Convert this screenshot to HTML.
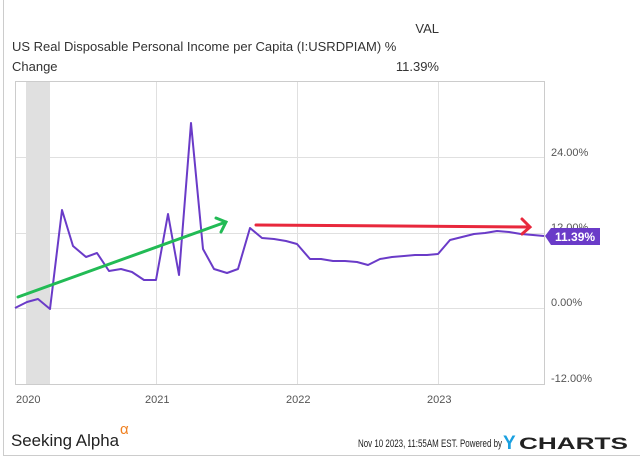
<!DOCTYPE html><html><head><style>body{margin:0;background:#fff}svg{display:block;font-family:"Liberation Sans",sans-serif}</style></head><body>
<svg width="640" height="457" viewBox="0 0 640 457">
<rect x="0" y="0" width="640" height="457" fill="#fff"/>
<line x1="3.5" y1="0" x2="3.5" y2="455" stroke="#ccc"/>
<line x1="3" y1="455.5" x2="640" y2="455.5" stroke="#ccc"/>
<text x="12" y="51" font-size="13" fill="#333">US Real Disposable Personal Income per Capita (I:USRDPIAM) %</text>
<text x="12" y="71" font-size="13" fill="#333">Change</text>
<text x="439" y="33" font-size="13" fill="#333" text-anchor="end">VAL</text>
<text x="439" y="71" font-size="13" fill="#333" text-anchor="end">11.39%</text>
<rect x="26" y="81" width="24" height="304" fill="#e0e0e0"/>
<g stroke="#e0e0e0" stroke-width="1">
<line x1="15" y1="157.5" x2="545" y2="157.5"/><line x1="15" y1="233.5" x2="545" y2="233.5"/><line x1="15" y1="308.5" x2="545" y2="308.5"/>
<line x1="156.5" y1="81" x2="156.5" y2="385"/><line x1="297.5" y1="81" x2="297.5" y2="385"/><line x1="438.5" y1="81" x2="438.5" y2="385"/>
</g>
<rect x="15.5" y="81.5" width="529" height="303" fill="none" stroke="#ccc"/>
<g font-size="11" fill="#555">
<text x="551" y="156">24.00%</text><text x="551" y="231">12.00%</text><text x="551" y="306">0.00%</text><text x="551" y="382">-12.00%</text>
<text x="16" y="403">2020</text><text x="145" y="403">2021</text><text x="286" y="403">2022</text><text x="427" y="403">2023</text>
</g>
<polyline fill="none" stroke="#6a3bc8" stroke-width="2" stroke-linejoin="round" points="15,308 27,302 38,299 50,309 62,210 73,246 86,257 97,253 109,271 121,269 132,272 144,280 156,280 168,214 179,275 191,123 203,249 214,269 227,273 238,269 250,228 262,238 274,239 286,241 297,244 310,259 321,259 333,261 345,261 357,262 368,265 380,259 392,257 404,256 415,255 427,255 438,254 450,240 462,237 474,234 485,233 497,231 509,232 521,234 533,235 544,236"/>
<g stroke="#22bb55" stroke-width="3" fill="none" stroke-linecap="round"><line x1="18" y1="297" x2="226" y2="222"/><polyline points="216,218 226,222 221,232"/></g>
<g stroke="#e8283c" stroke-width="3" fill="none" stroke-linecap="round"><line x1="256" y1="225" x2="529" y2="227"/><polyline points="522,219 530,227 522,234"/></g>
<path d="M545,236 L551,228 L600,228 L600,245 L551,245 Z" fill="#6a3bc8"/>
<text x="555" y="241" font-size="12" font-weight="bold" fill="#fff">11.39%</text>
<text x="11" y="446" font-size="17" fill="#222" textLength="108" lengthAdjust="spacingAndGlyphs">Seeking Alpha</text>
<text x="120" y="434" font-size="15" fill="#f08020">α</text>
<text x="358" y="447" font-size="11" fill="#222" textLength="144" lengthAdjust="spacingAndGlyphs">Nov 10 2023, 11:55AM EST. Powered by</text>
<text x="503" y="449" font-size="19" font-weight="bold" fill="#1aa0e0">Y</text>
<text x="519" y="449" font-size="17" font-weight="bold" fill="#222" textLength="109" lengthAdjust="spacingAndGlyphs">CHARTS</text>
</svg></body></html>
